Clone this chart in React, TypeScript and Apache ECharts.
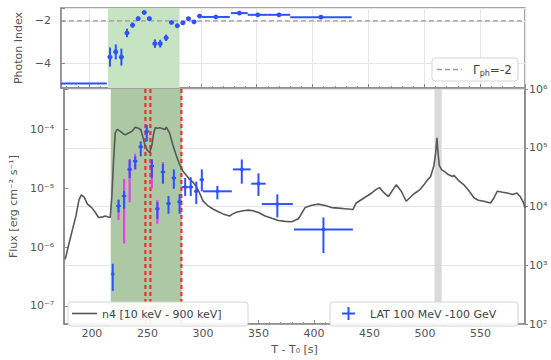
import React, { useEffect, useRef } from 'react';
import * as echarts from 'echarts';

// ---------- data ----------
const timeRange = [175, 590];

// Photon index: [t, tErr, index, indexErr]
const photonIndex: number[][] = [
  [218.8, 2, -3.7, 0.45],
  [224, 2, -3.46, 0.35],
  [229, 2, -3.7, 0.4],
  [234, 2, -2.57, 0.2],
  [239, 2, -2.2, 0.12],
  [244, 2, -1.9, 0.1],
  [249.4, 2, -1.61, 0.1],
  [254, 2, -1.9, 0.1],
  [259, 2, -3.07, 0.2],
  [263.7, 2, -3.07, 0.18],
  [269, 2, -2.8, 0.15],
  [273.8, 2, -2.08, 0.08],
  [279, 2, -2.23, 0.1],
  [284, 2, -2.1, 0.08],
  [289, 2, -1.9, 0.08],
  [294, 2, -2.05, 0.08],
  [299, 2, -1.78, 0.06],
  [313.5, 12.5, -1.82, 0.04],
  [334.5, 7.5, -1.64, 0.05],
  [351, 9, -1.72, 0.05],
  [370, 10, -1.72, 0.05],
  [407.5, 27.5, -1.83, 0.05],
];
// early bin without marker: [start, end, index]
const earlyIndexBin = [165, 216, -4.94];
const refIndex = -2;

// LAT flux: [t, tErr, flux, fluxLow, fluxHigh]
const latFlux: number[][] = [
  [218.8, 0, 3.5e-7, 1.8e-7, 5.2e-7],
  [224, 2, 5.0e-6, 3.9e-6, 6.4e-6],
  [229, 2, 7.4e-6, 4.5e-6, 9.1e-6],
  [234, 2, 2.1e-5, 1.5e-5, 3.1e-5],
  [239, 2, 2.9e-5, 2.1e-5, 3.5e-5],
  [244, 2, 5.1e-5, 3.5e-5, 6.3e-5],
  [249.4, 2, 9.3e-5, 6.3e-5, 1.2e-4],
  [254, 2, 2.4e-5, 1.5e-5, 3.1e-5],
  [259, 2, 4.5e-6, 3.0e-6, 5.8e-6],
  [264, 2, 1.9e-5, 1.2e-5, 2.6e-5],
  [269, 2, 5.5e-6, 3.7e-6, 7.4e-6],
  [273.8, 2, 1.5e-5, 9.8e-6, 2.1e-5],
  [279, 2, 5.9e-6, 3.7e-6, 8.0e-6],
  [284, 3, 1.05e-5, 7.4e-6, 1.5e-5],
  [289, 2, 1.05e-5, 7.4e-6, 1.55e-5],
  [294, 2, 8.9e-6, 5.4e-6, 1.3e-5],
  [299, 2, 1.4e-5, 8.9e-6, 2.1e-5],
  [313, 13, 8.9e-6, 6.5e-6, 1.1e-5],
  [335, 8, 2.1e-5, 1.2e-5, 3.1e-5],
  [350, 6.5, 1.2e-5, 7.4e-6, 1.8e-5],
  [367, 14, 5.4e-6, 3.2e-6, 7.9e-6],
  [408.5, 26.5, 2.0e-6, 7.9e-7, 3.2e-6],
];
// LAT systematic error bars: [t, low, high]
const latSystematic: number[][] = [
  [224, 2.9e-6, 6.4e-6],
  [229, 1.15e-6, 1.45e-5],
  [234, 5.8e-6, 3.1e-5],
  [239, 2.1e-5, 3.9e-5],
  [254, 1.0e-5, 3.1e-5],
  [259, 2.5e-6, 6.3e-6],
  [264, 1.2e-5, 2.8e-5],
];

// GBM n4 light curve: [t, counts]
const gbmLightCurve: number[][] = [
  [176, 1260], [179, 2200], [182, 3700], [185.7, 7000], [188.4, 13000], [190.5, 15800],
  [193, 14500], [196, 11000], [200, 9500], [203, 8000], [206, 6500], [209, 6600],
  [212, 6900], [214, 6700], [216.5, 6500], [218, 15000], [219.5, 60000], [221, 178000],
  [222.6, 204000], [224, 200000], [225.6, 190000], [228, 175000], [230, 166000],
  [233, 178000], [236, 190000], [239, 224000], [242, 215000], [244, 204000],
  [246, 150000], [248, 107000], [250, 90000], [252, 83000], [254, 110000],
  [255.5, 170000], [257, 219000], [259, 215000], [261, 219000], [264, 210000],
  [266, 204000], [267, 224000], [268.5, 200000], [270, 178000], [273, 110000],
  [276, 74000], [279, 52000], [282, 40000], [285, 34000], [288, 29000], [291, 26000],
  [294, 22000], [297, 17000], [300, 12500], [304, 10500], [309, 9100], [313, 8300],
  [318, 7500], [324, 6900], [327, 7500], [330, 8000], [336, 8500], [341, 8700],
  [345, 8500], [350, 7900], [356, 6900], [362, 6300], [368, 5800], [374, 5600],
  [380, 5500], [386, 6200], [392, 9600], [398, 10500], [404, 11000], [410, 10400],
  [416, 9600], [422, 9400], [428, 9200], [435, 8900], [438, 11500],
  [445, 14000], [452, 17000], [455, 19000], [459, 21000], [462, 18000], [467, 14800],
  [470, 18000], [474, 23400], [476, 21000], [478.6, 18200], [483, 12300], [487.5, 14800],
  [490, 16500], [493.5, 18200], [496, 20000], [499, 23400], [502, 28000], [505, 32400],
  [508, 50000], [509.5, 80000], [510.7, 148000], [511.5, 90000], [512.8, 50000],
  [515, 42000], [517, 40000], [521, 35000], [524.7, 32400], [526, 33900], [530, 28000],
  [535, 23400], [540, 18000], [544, 14100], [548, 12800], [553, 12300], [559, 11500],
  [562, 14000], [565, 18200], [570, 17500], [574, 17000], [579, 16000], [582.7, 17000],
  [586, 14500], [588.7, 11500], [590, 9500],
];

const greenInterval = [217, 281];
const grayInterval = [508.5, 515];
const redDashedTimes = [248.2, 252.7, 280.6];

// ---------- styling ----------
const FONT = 'DejaVu Sans';
const TXT = '#555';
const FRAME = '#8a8a8a';
const BLUE = '#2f52ff';
const MAGENTA = '#e245e0';
const LZ = 100;

const SUP: Record<string, string> = {
  '-': '\u207B', '0': '\u2070', '1': '\u00B9', '2': '\u00B2', '3': '\u00B3',
  '4': '\u2074', '5': '\u2075', '6': '\u2076', '7': '\u2077', '8': '\u2078', '9': '\u2079',
};
const pow10Label = (v: number) => {
  const e = Math.log10(v);
  const r = Math.round(e);
  if (Math.abs(e - r) > 0.02) return '';
  return '10' + String(r).split('').map((c) => SUP[c]).join('');
};

const bandSeries = (interval: number[], color: string, xIdx: number, yIdx: number, yRef: number, z: number) => ({
  type: 'custom',
  xAxisIndex: xIdx,
  yAxisIndex: yIdx,
  z,
  silent: true,
  clip: true,
  data: [[interval[0], interval[1]]],
  renderItem: (params: any, api: any) => {
    const cs = params.coordSys;
    const a = api.coord([api.value(0), yRef]);
    const b = api.coord([api.value(1), yRef]);
    return {
      type: 'rect',
      shape: { x: a[0], y: cs.y, width: b[0] - a[0], height: cs.height },
      style: { fill: color },
    };
  },
});

export default function App() {
  const ref = useRef<HTMLDivElement>(null);
  useEffect(() => {
    document.body.style.margin = '0';
    const chart = echarts.init(ref.current!, null, { renderer: 'svg' });

    const axisLabelBase = { color: TXT, fontFamily: FONT, fontSize: 11 };

    const option: any = {
      animation: false,
      textStyle: { fontFamily: FONT },
      grid: [
        { left: 61, right: 26, top: 8, height: 80, show: true, borderColor: FRAME, borderWidth: 1.5, backgroundColor: 'transparent' },
        { left: 61, right: 26, top: 89, height: 243, show: true, borderColor: FRAME, borderWidth: 1.5, backgroundColor: 'transparent' },
      ],
      xAxis: [
        {
          gridIndex: 0, type: 'value', min: timeRange[0], max: timeRange[1], splitNumber: 8,
          axisLine: { show: true, lineStyle: { color: FRAME, width: 1.5 } },
          axisTick: { show: true, inside: true, length: 4, lineStyle: { color: FRAME } },
          minorTick: { show: true, splitNumber: 5, length: 2, lineStyle: { color: FRAME } },
          axisLabel: { show: false },
          splitLine: { show: true, lineStyle: { color: '#e6e6e6', width: 1 } },
        },
        {
          gridIndex: 1, type: 'value', min: timeRange[0], max: timeRange[1], splitNumber: 8,
          axisLine: { show: true, lineStyle: { color: FRAME, width: 1.5 } },
          axisTick: { show: true, inside: true, length: 4, lineStyle: { color: FRAME } },
          minorTick: { show: true, splitNumber: 5, length: 2, lineStyle: { color: FRAME } },
          axisLabel: { ...axisLabelBase, margin: 4, formatter: (v: number) => (v % 50 === 0 ? String(v) : '') },
          splitLine: { show: false },
          name: 'T - T\u2080 [s]', nameLocation: 'middle', nameGap: 16,
          nameTextStyle: { color: TXT, fontFamily: FONT, fontSize: 11 },
        },
      ],
      yAxis: [
        {
          gridIndex: 0, type: 'value', min: -5.15, max: -1.4, splitNumber: 2,
          axisLine: { show: true, lineStyle: { color: FRAME, width: 1.5 } },
          axisTick: { show: true, inside: true, length: 4, lineStyle: { color: FRAME } },
          axisLabel: {
            ...axisLabelBase, margin: 10,
            formatter: (v: number) => (Math.abs(v - Math.round(v)) < 1e-6 && Math.round(v) % 2 === 0 ? '\u2212' + Math.abs(Math.round(v)) : ''),
          },
          splitLine: { show: true, lineStyle: { color: '#e6e6e6', width: 1 } },
          name: 'Photon Index', nameLocation: 'middle', nameGap: 23,
          nameTextStyle: { color: TXT, fontFamily: FONT, fontSize: 11 },
        },
        {
          gridIndex: 1, type: 'log', position: 'left', min: Math.pow(10, -7.31), max: Math.pow(10, -3.31),
          axisLine: { show: true, lineStyle: { color: FRAME, width: 1.5 } },
          axisTick: { show: true, inside: true, length: 4, lineStyle: { color: FRAME } },
          axisLabel: { ...axisLabelBase, margin: 10, formatter: pow10Label },
          splitLine: { show: false },
          name: 'Flux [erg cm\u207B\u00B2 s\u207B\u00B9]', nameLocation: 'middle', nameGap: 38,
          nameTextStyle: { color: TXT, fontFamily: FONT, fontSize: 11 },
        },
        {
          gridIndex: 1, type: 'log', position: 'right', min: 100, max: 1e6,
          axisLine: { show: true, lineStyle: { color: FRAME, width: 1.5 } },
          axisTick: { show: true, inside: false, length: 3, lineStyle: { color: FRAME } },
          axisLabel: { ...axisLabelBase, margin: 4, formatter: pow10Label },
          splitLine: { show: true, lineStyle: { color: '#e6e6e6', width: 1 } },
        },
      ],
      series: [
        bandSeries(greenInterval, '#c6e4c1', 0, 0, -3, 1),
        bandSeries(greenInterval, '#acc8a4', 1, 2, 1000, 1),
        bandSeries(grayInterval, '#d9d9d9', 1, 2, 1000, 1),
        {
          type: 'custom', xAxisIndex: 1, yAxisIndex: 2, z: 2, silent: true, clip: true,
          data: redDashedTimes.map((t) => [t]),
          renderItem: (params: any, api: any) => {
            const cs = params.coordSys;
            const p = api.coord([api.value(0), 1000]);
            return {
              type: 'line',
              shape: { x1: p[0], y1: cs.y, x2: p[0], y2: cs.y + cs.height },
              style: { stroke: '#e8342c', lineWidth: 2.2, lineDash: [4, 3] },
            };
          },
        },
        {
          type: 'custom', xAxisIndex: 0, yAxisIndex: 0, z: 2, silent: true, clip: true,
          data: [[refIndex]],
          renderItem: (params: any, api: any) => {
            const cs = params.coordSys;
            const p = api.coord([300, api.value(0)]);
            return {
              type: 'line',
              shape: { x1: cs.x, y1: p[1], x2: cs.x + cs.width, y2: p[1] },
              style: { stroke: '#9a9a9a', lineWidth: 1.3, lineDash: [5, 3] },
            };
          },
        },
        {
          type: 'custom', xAxisIndex: 0, yAxisIndex: 0, z: 4, silent: true, clip: true,
          data: [earlyIndexBin],
          renderItem: (params: any, api: any) => {
            const a = api.coord([api.value(0), api.value(2)]);
            const b = api.coord([api.value(1), api.value(2)]);
            return {
              type: 'line',
              shape: { x1: a[0], y1: a[1], x2: b[0], y2: b[1] },
              style: { stroke: BLUE, lineWidth: 2 },
            };
          },
        },
        {
          type: 'custom', xAxisIndex: 0, yAxisIndex: 0, z: 4, silent: true, clip: true,
          encode: { x: 0, y: 2 },
          data: photonIndex,
          renderItem: (params: any, api: any) => {
            const t = api.value(0), te = api.value(1), v = api.value(2), ve = api.value(3);
            const c = api.coord([t, v]);
            const l = api.coord([t - te, v]);
            const r = api.coord([t + te, v]);
            const lo = api.coord([t, v - ve]);
            const hi = api.coord([t, v + ve]);
            return {
              type: 'group',
              children: [
                { type: 'line', shape: { x1: c[0], y1: lo[1], x2: c[0], y2: hi[1] }, style: { stroke: BLUE, lineWidth: 2 } },
                { type: 'line', shape: { x1: l[0], y1: c[1], x2: r[0], y2: c[1] }, style: { stroke: BLUE, lineWidth: 2 } },
                { type: 'circle', shape: { cx: c[0], cy: c[1], r: 2.4 }, style: { fill: BLUE } },
              ],
            };
          },
        },
        {
          type: 'line', xAxisIndex: 1, yAxisIndex: 2, z: 3, silent: true,
          showSymbol: false, symbol: 'none',
          data: gbmLightCurve,
          lineStyle: { color: '#585858', width: 1.6 },
        },
        {
          type: 'custom', xAxisIndex: 1, yAxisIndex: 1, z: 4, silent: true, clip: true,
          encode: { x: 0, y: 1 },
          data: latSystematic,
          renderItem: (params: any, api: any) => {
            const lo = api.coord([api.value(0), api.value(1)]);
            const hi = api.coord([api.value(0), api.value(2)]);
            return {
              type: 'line',
              shape: { x1: lo[0], y1: lo[1], x2: hi[0], y2: hi[1] },
              style: { stroke: MAGENTA, lineWidth: 2.2 },
            };
          },
        },
        {
          type: 'custom', xAxisIndex: 1, yAxisIndex: 1, z: 5, silent: true, clip: true,
          encode: { x: 0, y: 2 },
          data: latFlux,
          renderItem: (params: any, api: any) => {
            const t = api.value(0), te = api.value(1), f = api.value(2), flo = api.value(3), fhi = api.value(4);
            const c = api.coord([t, f]);
            const l = api.coord([t - te, f]);
            const r = api.coord([t + te, f]);
            const lo = api.coord([t, flo]);
            const hi = api.coord([t, fhi]);
            return {
              type: 'group',
              children: [
                { type: 'line', shape: { x1: c[0], y1: lo[1], x2: c[0], y2: hi[1] }, style: { stroke: BLUE, lineWidth: 2 } },
                { type: 'line', shape: { x1: l[0], y1: c[1], x2: r[0], y2: c[1] }, style: { stroke: BLUE, lineWidth: 2 } },
                { type: 'circle', shape: { cx: c[0], cy: c[1], r: 1.8 }, style: { fill: BLUE } },
              ],
            };
          },
        },
      ],
      graphic: [
        { type: 'rect', z: LZ, shape: { x: 432, y: 58, width: 86, height: 23, r: 3 }, style: { fill: 'rgba(255,255,255,0.92)', stroke: '#d4d4d4', lineWidth: 1 } },
        { type: 'line', z: LZ + 1, shape: { x1: 437, y1: 69.5, x2: 462, y2: 69.5 }, style: { stroke: '#9a9a9a', lineWidth: 1.3, lineDash: [5, 3] } },
        {
          type: 'text', z: LZ + 1, x: 473, y: 69.5,
          style: {
            text: '{a|\u0393}{b|ph}{a|=-2}',
            verticalAlign: 'middle', align: 'left',
            rich: {
              a: { fontSize: 12, fontFamily: FONT, fill: '#444' },
              b: { fontSize: 8, fontFamily: FONT, fill: '#444', padding: [7, 0, 0, 0] },
            },
          },
        },
        { type: 'rect', z: LZ, shape: { x: 68, y: 302, width: 180, height: 24, r: 3 }, style: { fill: 'rgba(255,255,255,0.92)', stroke: '#d4d4d4', lineWidth: 1 } },
        { type: 'line', z: LZ + 1, shape: { x1: 72, y1: 313.5, x2: 97, y2: 313.5 }, style: { stroke: '#585858', lineWidth: 1.6 } },
        { type: 'text', z: LZ + 1, x: 102, y: 314, style: { text: 'n4 [10 keV - 900 keV]', fontSize: 11, fontFamily: FONT, fill: '#444', verticalAlign: 'middle', align: 'left' } },
        { type: 'rect', z: LZ, shape: { x: 330, y: 302, width: 188, height: 24, r: 3 }, style: { fill: 'rgba(255,255,255,0.92)', stroke: '#d4d4d4', lineWidth: 1 } },
        { type: 'line', z: LZ + 1, shape: { x1: 342, y1: 313.5, x2: 355, y2: 313.5 }, style: { stroke: BLUE, lineWidth: 2 } },
        { type: 'line', z: LZ + 1, shape: { x1: 348.5, y1: 307, x2: 348.5, y2: 320 }, style: { stroke: BLUE, lineWidth: 2 } },
        { type: 'text', z: LZ + 1, x: 370, y: 314, style: { text: 'LAT 100 MeV -100 GeV', fontSize: 11, fontFamily: FONT, fill: '#444', verticalAlign: 'middle', align: 'left' } },
      ],
    };

    chart.setOption(option);
    return () => chart.dispose();
  }, []);
  return <div ref={ref} style={{ width: 551, height: 360 }} />;
}
